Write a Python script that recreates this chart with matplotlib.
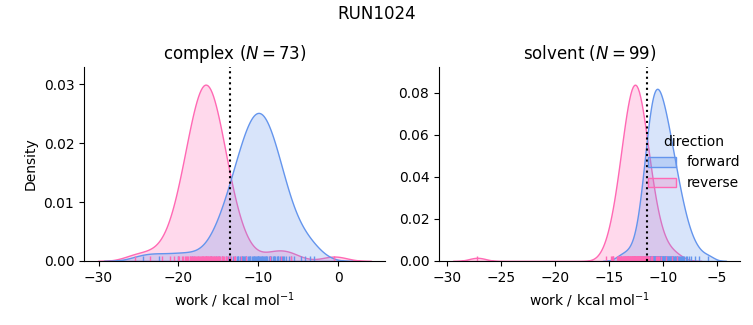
import numpy as np
import pandas as pd
import seaborn as sns
import matplotlib.pyplot as plt

# work values (kcal/mol)
complex_forward = [
    -24.5, -22.4, -20.1, -18.3,
    -15.3, -13.8, -12.9, -12.3, -11.8, -11.3, -10.8, -10.4, -10.0, -9.6, -9.2, -8.7, -8.2, -7.7, -7.1, -6.2, -4.7,
    -15.9, -14.1, -13.2, -12.5, -11.9, -11.5, -11.0, -10.6, -10.1, -9.7, -9.3, -8.9, -8.4, -7.9, -7.3, -6.5, -3.1,
    -14.9, -13.5, -12.7, -12.1, -11.6, -11.2, -10.7, -10.3, -9.9, -9.5, -9.0, -8.6, -8.1, -7.5, -6.9, -5.9, -4.2,
    -14.5, -13.6, -12.6, -12.0, -11.7, -11.1, -10.5, -10.2, -9.8, -9.4, -9.1, -8.5, -8.0, -7.6, -6.8, -5.6, -3.6,
    -10.0,
]
complex_reverse = [
    -25.5, -23.6, -22.0, -8.6, -7.2, -5.9, -0.5,
    -20.5, -19.4, -18.8, -18.3, -18.0, -17.6, -17.3, -17.0, -16.7, -16.4, -16.1, -15.8, -15.4, -15.1, -14.6, -14.0, -12.9,
    -20.1, -19.6, -18.9, -18.5, -17.9, -17.5, -17.2, -16.9, -16.6, -16.3, -16.0, -15.7, -15.3, -14.9, -14.4, -13.7, -12.2,
    -21.0, -19.2, -18.6, -18.2, -17.8, -17.4, -17.1, -16.8, -16.5, -16.2, -15.9, -15.6, -15.2, -14.8, -14.3, -13.4, -11.5,
    -19.9, -19.0, -18.4, -18.1, -17.7, -16.95, -16.6, -16.3, -15.9, -15.5, -15.0, -14.5, -13.9, -13.1, -16.6,
]
solvent_forward = [
    -13.9, -13.2, -5.8, -10.74,
    -10.77, -10.80, -10.83, -10.86, -10.89, -10.92, -10.96, -10.99, -11.02, -11.05, -11.09, -11.12,
    -11.16, -11.19, -11.23, -11.27, -11.31, -11.35, -11.39, -11.44, -11.48, -11.53, -11.58, -11.64,
    -11.70, -11.77, -11.85, -11.93, -12.03, -12.16, -12.34, -12.69,
    -10.72, -10.65, -10.58, -10.52, -10.45, -10.38, -10.31, -10.24, -10.17, -10.10, -10.03, -9.96,
    -9.88, -9.81, -9.73, -9.65, -9.56, -9.47, -9.38, -9.29, -9.19, -9.09, -8.98, -8.86, -8.73, -8.59,
    -8.42, -8.25, -8.03, -7.76, -7.37, -6.64,
    -10.68, -10.62, -10.55, -10.48, -10.42, -10.35, -10.28, -10.21, -10.14, -10.07, -10.00, -9.92,
    -9.85, -9.77, -9.69, -9.61, -9.52, -9.43, -9.34, -9.24, -9.14, -9.03, -8.92, -8.79, -8.66, -8.51,
    -8.34, -8.14, -7.90, -7.57, -7.05,
]
solvent_reverse = [
    -27.2, -15.3, -10.2, -9.7, -9.2, -8.7, -12.6,
    -14.72, -14.19, -13.89, -13.68, -13.50, -13.35, -13.20, -13.07, -12.95, -12.83, -12.72, -12.60,
    -12.48, -12.37, -12.25, -12.13, -12.00, -11.85, -11.70, -11.52, -11.31, -11.01, -10.48,
    -14.80, -14.15, -13.94, -13.63, -13.46, -13.31, -13.24, -13.02, -12.91, -12.86, -12.68, -12.64,
    -12.44, -12.41, -12.21, -12.17, -11.96, -11.89, -11.66, -11.56, -11.27, -11.05, -10.60,
    -14.65, -14.23, -13.85, -13.72, -13.54, -13.39, -13.16, -13.11, -12.99, -12.79, -12.76, -12.56,
    -12.52, -12.33, -12.29, -12.09, -12.04, -11.81, -11.74, -11.48, -11.35, -10.97, -10.40,
    -14.60, -14.10, -13.80, -13.65, -13.55, -13.30, -13.25, -13.05, -12.90, -12.80, -12.70, -12.58,
    -12.50, -12.35, -12.20, -12.10, -11.98, -11.83, -11.68, -11.50, -11.30, -11.08, -10.55,
]

phases = ["complex", "solvent"]
n_labels = [73, 99]
free_energy = [-13.6, -11.5]   # dotted lines

series = {
    ("complex", "forward"): complex_forward,
    ("complex", "reverse"): complex_reverse,
    ("solvent", "forward"): solvent_forward,
    ("solvent", "reverse"): solvent_reverse,
}
rows = []
for (phase, direction), vals in series.items():
    for v in vals:
        rows.append({"phase": phase, "direction": direction, "work": v})
df = pd.DataFrame(rows)

g = sns.displot(data=df, x="work", hue="direction", col="phase", kind="kde",
                fill=True, rug=True, col_order=phases,
                hue_order=["forward", "reverse"],
                palette=["cornflowerblue", "hotpink"],
                facet_kws=dict(sharex=False, sharey=False),
                height=3.0, aspect=1.1)

fig = g.figure
fig.set_size_inches(7.53, 3.25)
fig.subplots_adjust(left=84/753, right=740/753, bottom=1-261/325, top=1-67/325, wspace=0.18)

for ax, phase, n, dg in zip(g.axes.flat, phases, n_labels, free_energy):
    ax.axvline(dg, color="k", ls=":", lw=1.5)
    ax.set_title(f"{phase} ($N={n}$)", fontsize=12)
    ax.set_xlabel("work / kcal mol$^{-1}$")
g.axes.flat[0].set_ylabel("Density")

sns.move_legend(g, "center right", bbox_to_anchor=(1.0, 0.5), frameon=False)
fig.suptitle("RUN1024", fontsize=12, y=0.985)

fig.savefig("out.png", dpi=100)
